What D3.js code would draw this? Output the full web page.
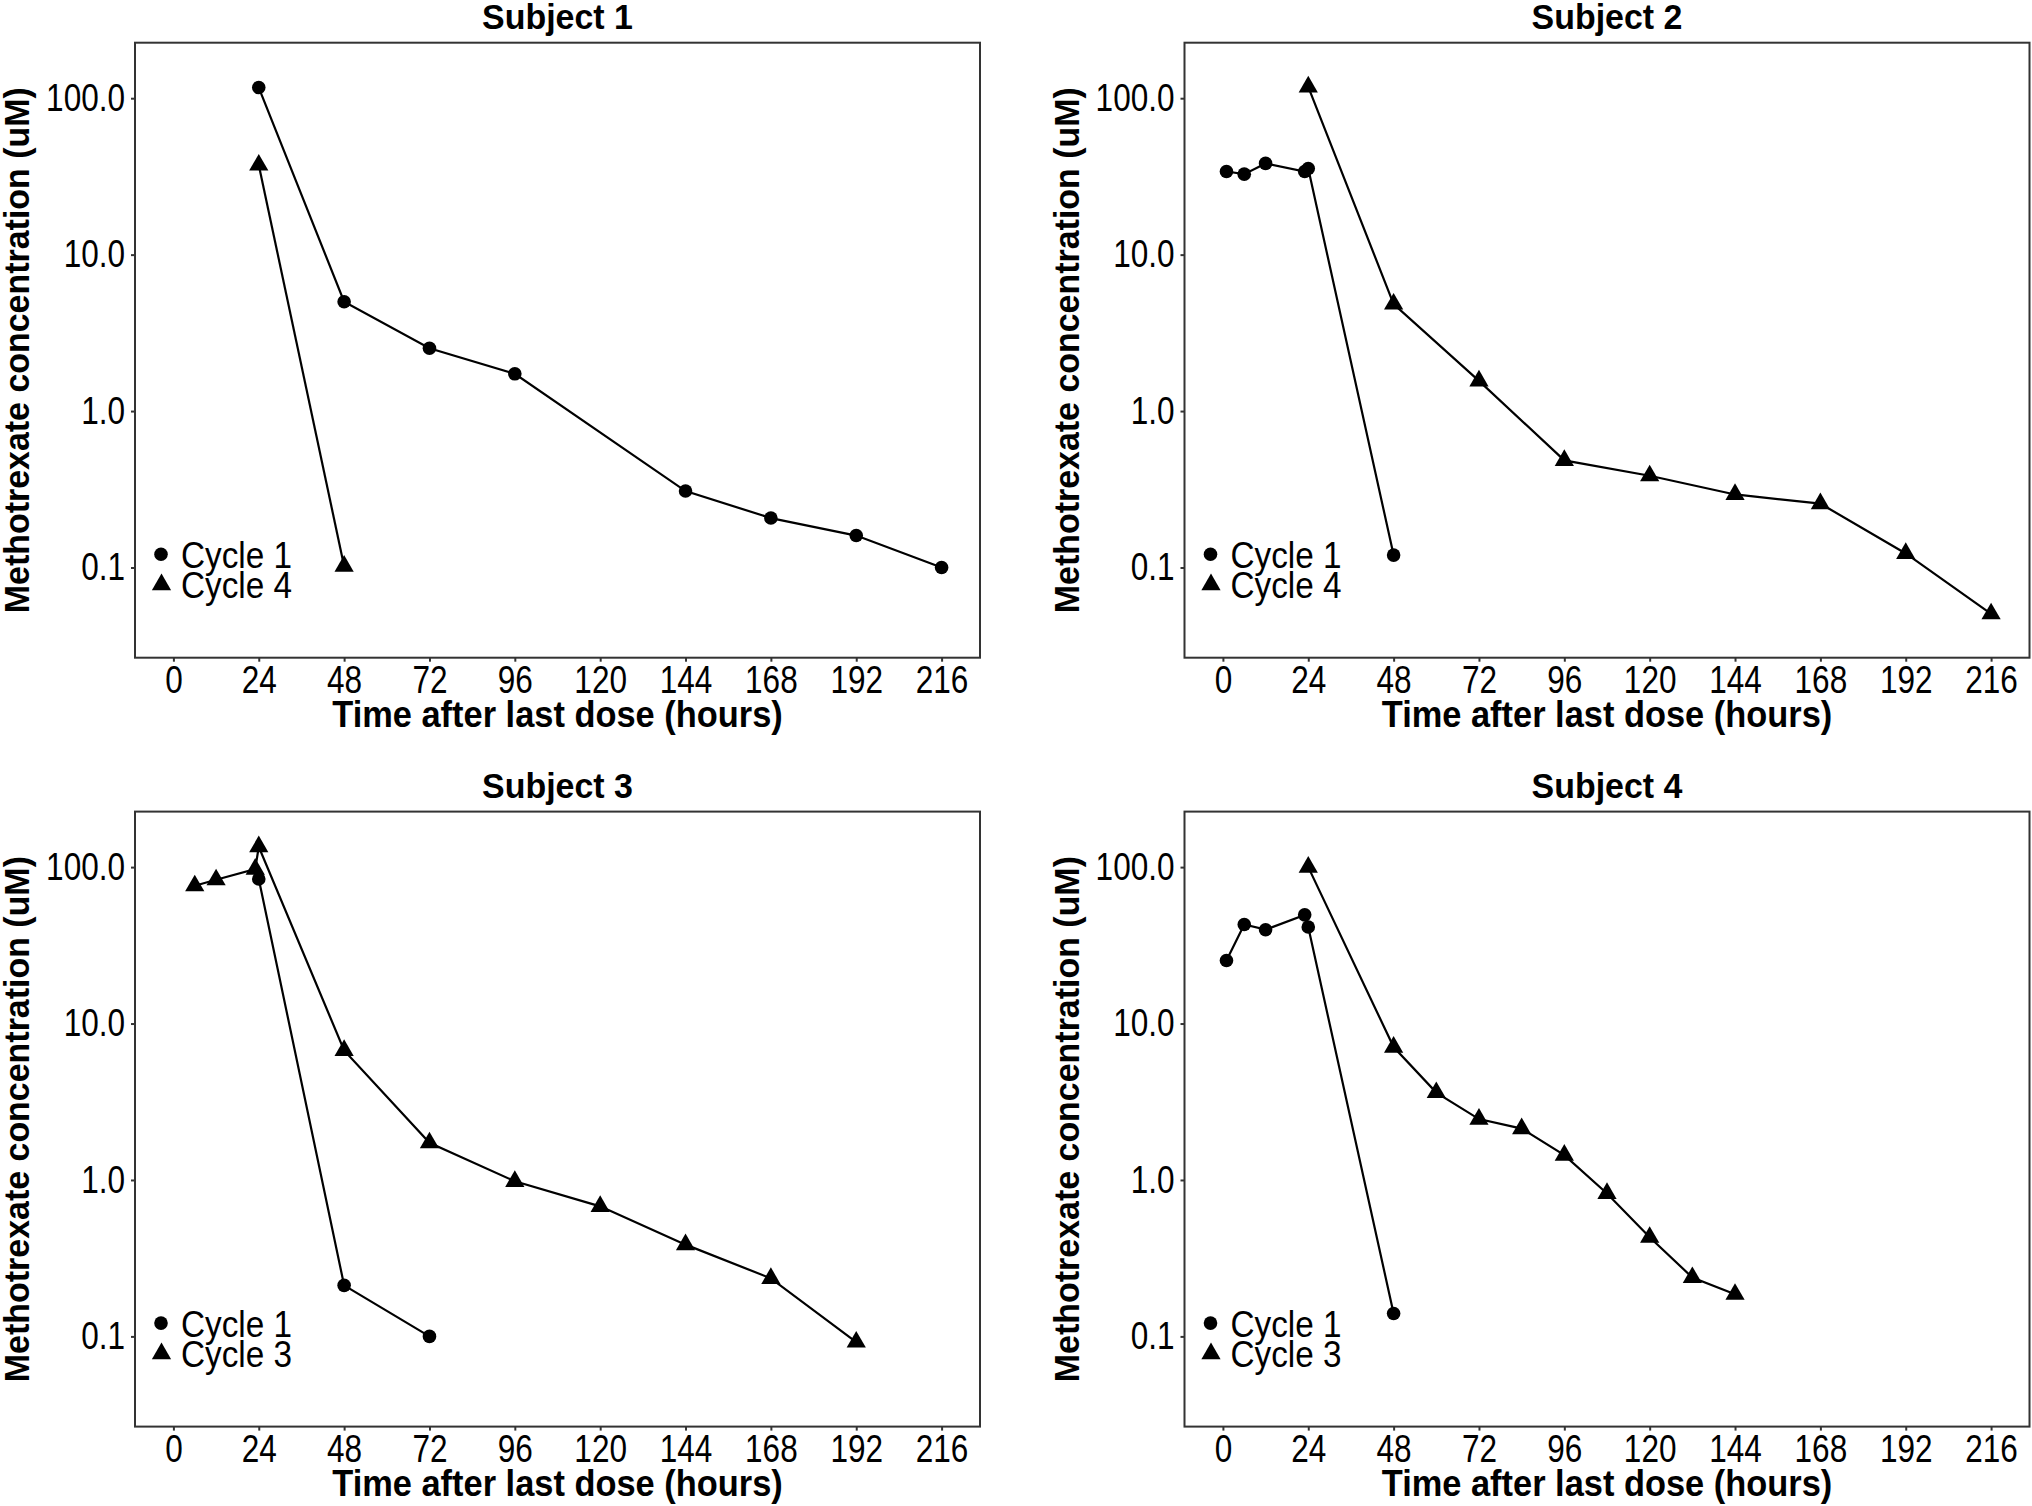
<!DOCTYPE html>
<html>
<head>
<meta charset="utf-8">
<script src="https://cdn.jsdelivr.net/npm/d3@7"></script>
<style>
  body { margin: 0; background: #fff; }
  svg text { font-family: "Liberation Sans", Arial, Helvetica, sans-serif; fill: #000; }
</style>
</head>
<body>
<svg id="chart" width="2032" height="1506"></svg>
<script>
// values: [hours, uM]
const s1Cycle1 = [[24, 117], [48, 5.0], [72, 2.52], [96, 1.73], [144, 0.308], [168, 0.207], [192, 0.16], [216, 0.10]];
const s1Cycle4 = [[24, 37.4], [48, 0.102]];
const s2Cycle1 = [[1, 34], [6, 32.7], [12, 38.3], [23, 34], [24, 35.5], [48, 0.12]];
const s2Cycle4 = [[24, 118], [48, 4.83], [72, 1.56], [96, 0.484], [120, 0.386], [144, 0.293], [168, 0.256], [192, 0.123], [216, 0.0506]];
const s3Cycle1 = [[24, 84], [48, 0.212], [72, 0.1]];
const s3Cycle3 = [[6, 76], [12, 83], [23, 97], [24, 135], [48, 6.73], [72, 1.73], [96, 0.98], [120, 0.678], [144, 0.386], [168, 0.235], [192, 0.092]];
const s4Cycle1 = [[1, 25.3], [6, 43], [12, 39.8], [23, 49.5], [24, 41.4], [48, 0.14]];
const s4Cycle3 = [[24, 100], [48, 7.07], [60, 3.62], [72, 2.45], [84, 2.13], [96, 1.44], [108, 0.82], [120, 0.43], [132, 0.238], [144, 0.186]];

const subjectNames = ['Subject 1', 'Subject 2', 'Subject 3', 'Subject 4'];
const cycleNames = [['Cycle 1', 'Cycle 4'], ['Cycle 1', 'Cycle 4'], ['Cycle 1', 'Cycle 3'], ['Cycle 1', 'Cycle 3']];
const subjectSeries = [[s1Cycle1, s1Cycle4], [s2Cycle1, s2Cycle4], [s3Cycle1, s3Cycle3], [s4Cycle1, s4Cycle3]];

const xTicks = [0, 24, 48, 72, 96, 120, 144, 168, 192, 216];
const yTicks = [0.1, 1, 10, 100];
const xLimits = [0, 216];
const yLimits = [0.04, 150];

const xTitle = 'Time after last dose (hours)';
const yTitle = 'Methotrexate concentration (uM)';

const svg = d3.select('#chart');
const panelW = 845, panelH = 615;
const panelLeft = [135, 1184.5];
const panelTop = [42.7, 811.6];

// the figure's lettering is a bit narrow, squeeze text horizontally around its anchor
function condense(sel, k) {
  sel.each(function() {
    const t = d3.select(this);
    const x = +t.attr('x') || 0;
    t.attr('transform', 'translate(' + x + ',0) scale(' + k + ',1) translate(' + (-x) + ',0)');
  });
}

// ggplot style 5% expansion (log space for y)
const xPad = (xLimits[1] - xLimits[0]) * 0.05;
const lyLo = Math.log10(yLimits[0]), lyHi = Math.log10(yLimits[1]);
const yPad = (lyHi - lyLo) * 0.05;

const circle = d3.symbol().type(d3.symbolCircle).size(145);
const triangle = d3.symbol().type(d3.symbolTriangle).size(160);
const shapes = [circle, triangle];

subjectNames.forEach((name, i) => {
  const left = panelLeft[i % 2];
  const top = panelTop[Math.floor(i / 2)];

  const x = d3.scaleLinear()
    .domain([xLimits[0] - xPad, xLimits[1] + xPad])
    .range([0, panelW]);
  const y = d3.scaleLog()
    .domain([Math.pow(10, lyLo - yPad), Math.pow(10, lyHi + yPad)])
    .range([panelH, 0]);

  const g = svg.append('g').attr('transform', 'translate(' + left + ',' + top + ')');

  // axes
  const xAxis = d3.axisBottom(x).tickValues(xTicks).tickSize(4).tickPadding(4).tickFormat(d3.format('d'));
  const yAxis = d3.axisLeft(y).tickValues(yTicks).tickSize(4).tickPadding(6).tickFormat(d3.format('.1f'));

  const gx = g.append('g').attr('transform', 'translate(0,' + panelH + ')').call(xAxis);
  const gy = g.append('g').call(yAxis);
  [gx, gy].forEach(a => {
    a.select('.domain').remove();
    a.selectAll('line').attr('stroke', '#333').attr('stroke-width', 2);
    a.selectAll('text').attr('font-size', 38).attr('fill', '#000')
      .style('font-family', '"Liberation Sans", Arial, sans-serif');
    condense(a.selectAll('text'), 0.83);
  });
  gx.selectAll('text').attr('dy', '0.73em');

  // panel border
  g.append('rect')
    .attr('width', panelW).attr('height', panelH)
    .attr('fill', 'none').attr('stroke', '#333').attr('stroke-width', 2);

  // lines and points
  const line = d3.line().x(d => x(d[0])).y(d => y(d[1]));
  subjectSeries[i].forEach((series, k) => {
    g.append('path')
      .attr('d', line(series))
      .attr('fill', 'none').attr('stroke', '#000').attr('stroke-width', 2.2);
    g.selectAll(null)
      .data(series)
      .enter()
      .append('path')
      .attr('d', shapes[k])
      .attr('transform', d => 'translate(' + x(d[0]) + ',' + y(d[1]) + ')')
      .attr('fill', '#000');
  });

  // legend inside the panel, bottom left
  cycleNames[i].forEach((label, k) => {
    const cy = 511.5 + k * 30.5;
    g.append('path')
      .attr('d', shapes[k])
      .attr('transform', 'translate(' + (26 + k * 0.5) + ',' + cy + ')')
      .attr('fill', '#000');
    const t = g.append('text')
      .attr('x', 46).attr('y', cy + 13.5)
      .attr('font-size', 37)
      .text(label);
    condense(t, 0.9);
  });

  // titles
  const title = g.append('text')
    .attr('x', panelW / 2).attr('y', -14)
    .attr('text-anchor', 'middle')
    .attr('font-size', 35).attr('font-weight', 'bold')
    .text(name);
  condense(title, 0.97);
  const xt = g.append('text')
    .attr('x', panelW / 2).attr('y', panelH + 69)
    .attr('text-anchor', 'middle')
    .attr('font-size', 37).attr('font-weight', 'bold')
    .text(xTitle);
  condense(xt, 0.93);
  g.append('text')
    .attr('transform', 'translate(' + (29 - 135) + ',' + (panelH / 2) + ') rotate(-90) scale(0.97,1)')
    .attr('text-anchor', 'middle')
    .attr('font-size', 35).attr('font-weight', 'bold')
    .text(yTitle);
});
</script>
</body>
</html>
